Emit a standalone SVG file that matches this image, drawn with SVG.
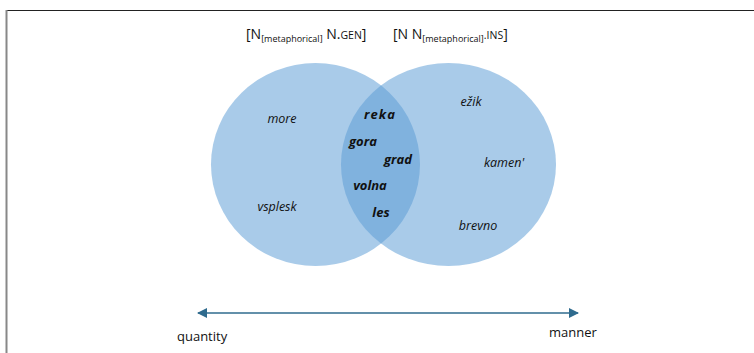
<svg xmlns="http://www.w3.org/2000/svg" width="754" height="353" viewBox="0 0 754 353">
<defs>
<style>
text{font-family:"Open Sans","Liberation Sans",sans-serif;fill:#111}
.w{font-style:italic;font-size:12.5px;text-anchor:middle}
.b{font-style:italic;font-weight:bold;font-size:13px;text-anchor:middle}
.h{font-size:14px}
.sub{font-size:9px}
.sc{font-size:10.5px}
.lab{font-size:13px}
.circ{fill:#5b9bd5;fill-opacity:0.52}
</style>
<marker id="ah" viewBox="0 0 10 10" refX="9" refY="5" markerWidth="10" markerHeight="10" markerUnits="userSpaceOnUse" orient="auto-start-reverse">
<path d="M0,0 L10,5 L0,10 Z" fill="#2f6b8e"/>
</marker>
</defs>
<rect width="754" height="353" fill="#fff"/>
<line x1="6" y1="10.5" x2="754" y2="10.5" stroke="#222" stroke-width="1.2"/>
<line x1="6.5" y1="10" x2="6.5" y2="353" stroke="#888" stroke-width="2"/>
<g id="set-genitive">
<ellipse class="circ" cx="315.5" cy="164.5" rx="104.5" ry="101.5"/>
<text class="h" x="246" y="39">[N<tspan class="sub" dy="3">[metaphorical]</tspan><tspan dy="-3"> N.</tspan><tspan class="sc">GEN</tspan>]</text>
<text class="w" x="282" y="123">more</text>
<text class="w" x="277" y="211">vsplesk</text>
</g>
<g id="set-instrumental">
<ellipse class="circ" cx="448.5" cy="164.5" rx="107.5" ry="101.5"/>
<text class="h" x="393" y="39">[N N<tspan class="sub" dy="3">[metaphorical]</tspan><tspan class="sc" dy="-3">.INS</tspan>]</text>
<text class="w" x="471" y="106">ežik</text>
<text class="w" x="504" y="167">kamen'</text>
<text class="w" x="478" y="230">brevno</text>
</g>
<g id="overlap">
<text class="b" x="380" y="119" letter-spacing="1">reka</text>
<text class="b" x="363" y="146">gora</text>
<text class="b" x="398" y="164">grad</text>
<text class="b" x="370" y="190">volna</text>
<text class="b" x="381" y="217">les</text>
</g>
<g id="connectors">
<line x1="198" y1="313" x2="578" y2="313" stroke="#2f6b8e" stroke-width="1.5" marker-start="url(#ah)" marker-end="url(#ah)"/>
</g>
<g id="axis-labels">
<text class="lab" x="177" y="341">quantity</text>
<text class="lab" x="549" y="337">manner</text>
</g>
</svg>
